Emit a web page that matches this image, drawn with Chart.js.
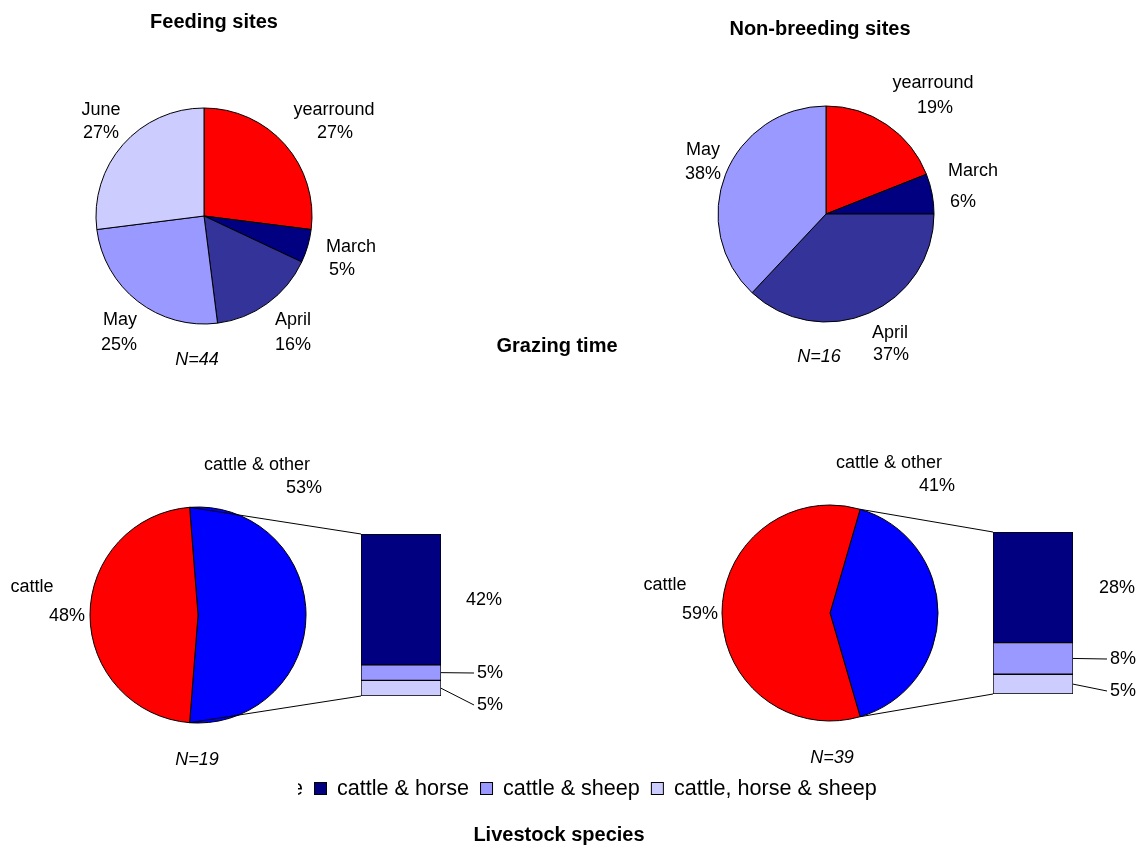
<!DOCTYPE html>
<html>
<head>
<meta charset="utf-8">
<title>Grazing time and livestock species</title>
<script src="https://cdn.jsdelivr.net/npm/chart.js@4.4.0/dist/chart.umd.min.js"></script>
<style>
  html, body { margin: 0; padding: 0; background: #fff; }
  #page { position: relative; width: 1143px; height: 847px; overflow: hidden; background: #fff; }
  #page canvas { position: absolute; }
  #overlay { left: 0; top: 0; pointer-events: none; }
</style>
</head>
<body>
<div id="page">
  <canvas id="pieFeeding" width="240" height="240" style="left:84px;top:96px"></canvas>
  <canvas id="pieNonBreeding" width="240" height="240" style="left:706px;top:94px"></canvas>
  <canvas id="pieSpeciesA" width="240" height="240" style="left:78px;top:495px"></canvas>
  <canvas id="barSpeciesA" width="100" height="182" style="left:351px;top:524px"></canvas>
  <canvas id="pieSpeciesB" width="240" height="240" style="left:710px;top:493px"></canvas>
  <canvas id="barSpeciesB" width="100" height="182" style="left:983px;top:522px"></canvas>
  <canvas id="overlay" width="1143" height="847"></canvas>
</div>
<script>
// grazing time, % of sites
var monthLabels = ['yearround', 'March', 'April', 'May', 'June'];
var monthColors = ['#ff0000', '#000080', '#333399', '#9999ff', '#ccccff'];
var feedingMonths = [27, 5, 16, 25, 27];
var nonBreedingMonths = [19, 6, 37, 38];

// livestock species, % of sites
var speciesLabels = ['cattle & other', 'cattle'];
var speciesColors = ['#0000ff', '#ff0000'];
var feedingSpecies = [53, 48];
var nonBreedingSpecies = [41, 59];

// breakdown of "cattle & other"
var otherLabels = ['cattle & horse', 'cattle & sheep', 'cattle, horse & sheep'];
var otherColors = ['#000080', '#9999ff', '#ccccff'];
var feedingOther = [42, 5, 5];
var nonBreedingOther = [28, 8, 5];

var sampleSizes = [44, 16, 19, 39];

var FONT = '"Liberation Sans", Arial, Helvetica, sans-serif';

Chart.defaults.animation = false;
Chart.defaults.font.family = FONT;

function pieChart(id, labels, values, colors, rotation) {
  return new Chart(document.getElementById(id), {
    type: 'pie',
    data: {
      labels: labels,
      datasets: [{
        data: values,
        backgroundColor: colors.slice(0, values.length),
        borderColor: '#000',
        borderWidth: 1,
        radius: 108
      }]
    },
    options: {
      responsive: false,
      rotation: rotation || 0,
      plugins: { legend: { display: false }, tooltip: { enabled: false } },
      events: []
    }
  });
}

function stackChart(id, values) {
  var total = values.reduce(function (a, b) { return a + b; }, 0);
  return new Chart(document.getElementById(id), {
    type: 'bar',
    data: {
      labels: ['cattle & other'],
      datasets: values.map(function (v, i) {
        return {
          label: otherLabels[i],
          data: [v],
          backgroundColor: otherColors[i],
          borderColor: '#000',
          borderWidth: 1,
          borderSkipped: false,
          barPercentage: 1,
          categoryPercentage: 1
        };
      })
    },
    options: {
      responsive: false,
      layout: { padding: 10 },
      scales: {
        x: { stacked: true, display: false },
        y: { stacked: true, display: false, reverse: true, min: 0, max: total }
      },
      plugins: { legend: { display: false }, tooltip: { enabled: false } },
      events: []
    }
  });
}

// the "other" slice is turned so that it faces the stacked column
function facingRotation(values) {
  var total = values[0] + values[1];
  return 90 - 180 * values[0] / total;
}

var pieFeeding = pieChart('pieFeeding', monthLabels, feedingMonths, monthColors, 0);
var pieNonBreeding = pieChart('pieNonBreeding', monthLabels.slice(0, 4), nonBreedingMonths, monthColors, 0);
var pieSpeciesA = pieChart('pieSpeciesA', speciesLabels, feedingSpecies, speciesColors, facingRotation(feedingSpecies));
var pieSpeciesB = pieChart('pieSpeciesB', speciesLabels, nonBreedingSpecies, speciesColors, facingRotation(nonBreedingSpecies));
var barSpeciesA = stackChart('barSpeciesA', feedingOther);
var barSpeciesB = stackChart('barSpeciesB', nonBreedingOther);

// ---- annotations drawn on top ----
var ov = document.getElementById('overlay');
var ctx = ov.getContext('2d');

function text(s, x, y, font, align) {
  ctx.font = font;
  ctx.textAlign = align || 'center';
  ctx.textBaseline = 'middle';
  ctx.fillStyle = '#000';
  ctx.fillText(s, x, y);
}

function line(x1, y1, x2, y2) {
  ctx.beginPath();
  ctx.moveTo(x1, y1);
  ctx.lineTo(x2, y2);
  ctx.strokeStyle = '#000';
  ctx.lineWidth = 1;
  ctx.stroke();
}

function arcPoint(chart, i, end) {
  var a = chart.getDatasetMeta(0).data[i];
  var ang = end ? a.endAngle : a.startAngle;
  return [chart.canvas.offsetLeft + a.x + a.outerRadius * Math.cos(ang),
          chart.canvas.offsetTop + a.y + a.outerRadius * Math.sin(ang)];
}

function barRect(chart, i) {
  var p = chart.getDatasetMeta(i).data[0].getProps(['x', 'y', 'base', 'width'], true);
  var l = chart.canvas.offsetLeft, t = chart.canvas.offsetTop;
  return {
    left: l + p.x - p.width / 2, right: l + p.x + p.width / 2,
    top: t + Math.min(p.y, p.base), bottom: t + Math.max(p.y, p.base)
  };
}

var labelFont = '18px ' + FONT;
var titleFont = 'bold 20px ' + FONT;
var nFont = 'italic 18px ' + FONT;

// slice label spots: name x, y, percent x, y
var feedingSpots = [[334, 110, 335, 133], [351, 247, 342, 270], [293, 320, 293, 345], [120, 320, 119, 345], [101, 110, 101, 133]];
var nonBreedingSpots = [[933, 83, 935, 108], [973, 171, 963, 202], [890, 333, 891, 355], [703, 150, 703, 174]];
var speciesSpotsA = [[257, 465, 304, 488], [32, 587, 67, 616]];
var speciesSpotsB = [[889, 463, 937, 486], [665, 585, 700, 614]];
var otherSpotsA = [[484, 600], [490, 673], [490, 705]];
var otherSpotsB = [[1117, 588], [1123, 659], [1123, 691]];

function pieLabels(labels, values, spots) {
  values.forEach(function (v, i) {
    var s = spots[i];
    text(labels[i], s[0], s[1], labelFont);
    text(v + '%', s[2], s[3], labelFont);
  });
}

function pieOfBar(pie, bar, values, spots) {
  var first = barRect(bar, 0);
  var last = barRect(bar, values.length - 1);
  var p0 = arcPoint(pie, 0, false);
  var p1 = arcPoint(pie, 0, true);
  line(p0[0], p0[1], first.left, first.top);
  line(p1[0], p1[1], last.left, last.bottom);
  values.forEach(function (v, i) {
    var r = barRect(bar, i);
    var s = spots[i];
    if (i > 0) {
      line(r.right, (r.top + r.bottom) / 2, s[0] - 16, s[1]);
    }
    text(v + '%', s[0], s[1], labelFont);
  });
}

text('Feeding sites', 214, 22, titleFont);
text('Non-breeding sites', 820, 29, titleFont);
text('Grazing time', 557, 346, titleFont);
text('Livestock species', 559, 835, titleFont);

pieLabels(monthLabels, feedingMonths, feedingSpots);
pieLabels(monthLabels, nonBreedingMonths, nonBreedingSpots);
pieLabels(speciesLabels, feedingSpecies, speciesSpotsA);
pieLabels(speciesLabels, nonBreedingSpecies, speciesSpotsB);
pieOfBar(pieSpeciesA, barSpeciesA, feedingOther, otherSpotsA);
pieOfBar(pieSpeciesB, barSpeciesB, nonBreedingOther, otherSpotsB);

text('N=' + sampleSizes[0], 197, 360, nFont);
text('N=' + sampleSizes[1], 819, 357, nFont);
text('N=' + sampleSizes[2], 197, 760, nFont);
text('N=' + sampleSizes[3], 832, 758, nFont);

// legend strip; its first entry is cut off at the left edge
(function () {
  var legFont = '21.6px ' + FONT;
  var y = 789;
  ctx.save();
  ctx.beginPath();
  ctx.rect(298, 770, 20, 40);
  ctx.clip();
  text(speciesLabels[1], 303, y, legFont, 'right');
  ctx.restore();

  var x = 314;
  ctx.font = legFont;
  otherLabels.forEach(function (lab, i) {
    ctx.fillStyle = otherColors[i];
    ctx.fillRect(x + 0.5, y - 6.5, 12, 12);
    ctx.strokeStyle = '#000';
    ctx.lineWidth = 1;
    ctx.strokeRect(x + 0.5, y - 6.5, 12, 12);
    text(lab, x + 23, y, legFont, 'left');
    ctx.font = legFont;
    x += 23 + ctx.measureText(lab).width + 11;
  });
})();
</script>
</body>
</html>
